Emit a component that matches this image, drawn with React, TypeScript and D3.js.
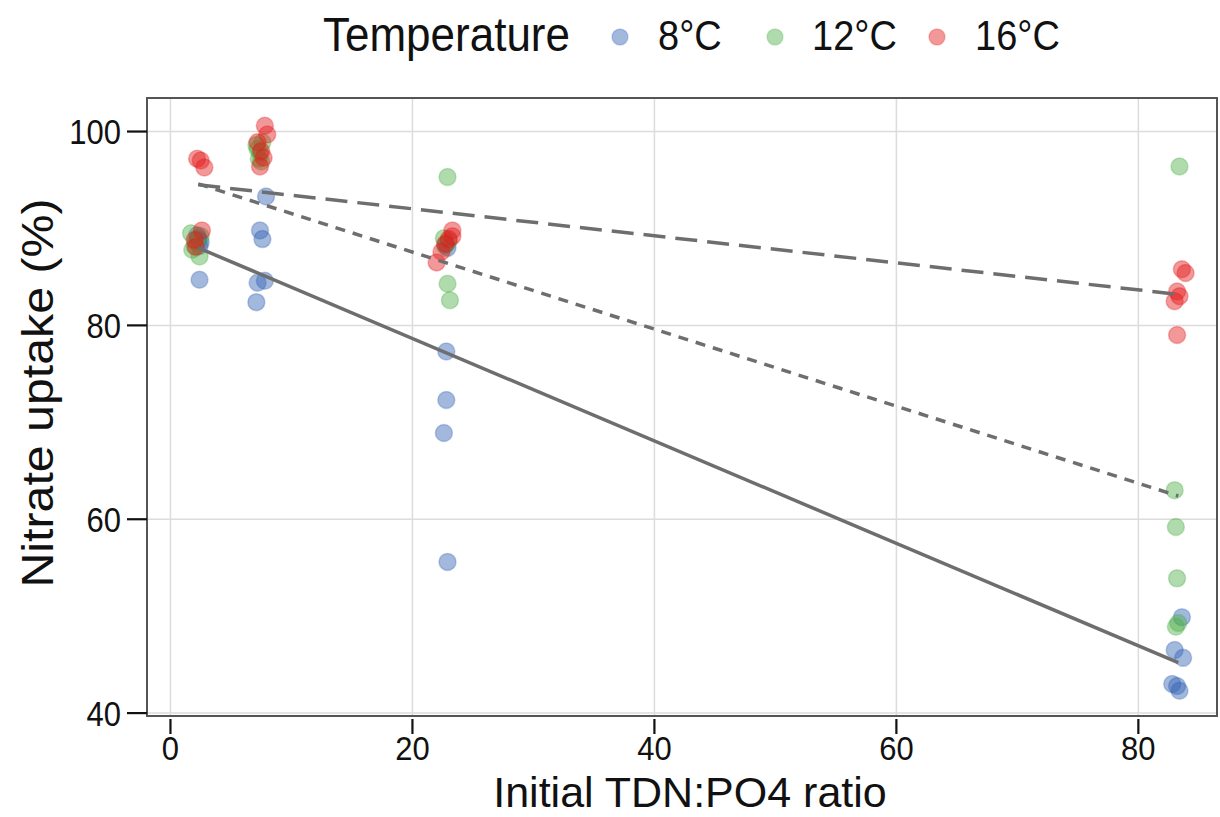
import React from "react";
import * as d3 from "d3";

const temperatures = ["8°C", "12°C", "16°C"];
const colors = ["#3462b4", "#4daf4a", "#e41a1c"];

// [TDN:PO4 ratio, nitrate uptake %]
const points8: [number, number][] = [
  [2.3, 89.0], [2.5, 88.6], [2.2, 89.3], [2.4, 88.2], [2.3, 88.8], [2.4, 84.7],
  [7.9, 93.3], [7.4, 89.8], [7.6, 88.9], [7.2, 84.4], [7.8, 84.6], [7.1, 82.4],
  [22.8, 77.3], [22.8, 72.3], [22.6, 68.9], [22.9, 55.6], [22.8, 88.4], [22.9, 88.0],
  [83.6, 49.9], [83.0, 46.5], [83.7, 45.7], [82.8, 43.0], [83.2, 42.8], [83.4, 42.3],
];
const points12: [number, number][] = [
  [1.7, 89.5], [2.4, 87.1], [1.8, 87.8], [2.1, 88.6], [2.5, 89.2], [2.0, 88.2],
  [7.1, 98.6], [7.4, 97.8], [7.6, 98.9], [7.3, 97.2], [7.5, 96.9], [7.2, 98.2],
  [22.9, 95.3], [22.9, 84.3], [23.1, 82.6], [22.6, 89.0], [22.7, 88.2], [23.0, 88.7],
  [83.4, 96.4], [83.0, 63.0], [83.1, 59.2], [83.2, 53.9], [83.3, 49.3], [83.1, 48.9],
];
const points16: [number, number][] = [
  [2.2, 97.2], [2.5, 97.0], [2.8, 96.3], [2.6, 89.8], [2.0, 88.8], [2.1, 88.1],
  [7.8, 100.6], [8.0, 99.7], [7.2, 98.9], [7.5, 98.0], [7.7, 97.3], [7.4, 96.4],
  [23.3, 89.8], [23.0, 88.9], [22.7, 88.4], [22.4, 87.6], [22.0, 86.5], [23.3, 89.2],
  [83.6, 85.8], [83.9, 85.4], [83.2, 83.5], [83.4, 83.0], [83.0, 82.5], [83.2, 79.0],
];
const series = [points8, points12, points16];

// fitted regression lines: values at the two ends of the x range
const fitX = [2.3, 83.3];
const fit8 = [88.0, 45.2];
const fit12 = [94.6, 62.4];
const fit16 = [94.5, 83.2];
const fits = [fit8, fit12, fit16];
const fitDash = ["none", "10,8", "22,10"];

const xTicks = [0, 20, 40, 60, 80];
const yTicks = [40, 60, 80, 100];

const FONT = "'Liberation Sans', Arial, Helvetica, sans-serif";

export default function App() {
  const left = 147, right = 1217, top = 98, bottom = 716;
  const x = d3.scaleLinear().domain([-1.94, 86.5]).range([left, right]);
  const y = d3.scaleLinear().domain([39.7, 103.46]).range([bottom, top]);
  const line = d3.line<[number, number]>().x((d) => x(d[0])).y((d) => y(d[1]));

  const legendDots = [620, 775, 937];
  const legendText = [658, 812, 975];

  return (
    <svg
      width={1220}
      height={817}
      style={{ position: "absolute", left: 0, top: 0, background: "#fff" }}
      fontFamily={FONT}
    >
      <rect x={0} y={0} width={1220} height={817} fill="#fff" />
      {/* legend */}
      <text transform="translate(323,51) scale(1,1.1)" fontSize={44} fill="#111">Temperature</text>
      {temperatures.map((t, i) => (
        <g key={t}>
          <circle cx={legendDots[i]} cy={37} r={8} fill={colors[i]} fillOpacity={0.45} stroke={colors[i]} strokeOpacity={0.25} strokeWidth={1.5} />
          <text transform={`translate(${legendText[i]},50) scale(1,1.1)`} fontSize={38} fill="#111">{t}</text>
        </g>
      ))}

      {/* grid */}
      {xTicks.map((t) => (
        <line key={"gx" + t} x1={x(t)} x2={x(t)} y1={top} y2={bottom} stroke="#dcdcdc" strokeWidth={1.5} />
      ))}
      {yTicks.map((t) => (
        <line key={"gy" + t} x1={left} x2={right} y1={y(t)} y2={y(t)} stroke="#dcdcdc" strokeWidth={1.5} />
      ))}

      {/* points */}
      {series.map((pts, si) =>
        pts.map((p, i) => (
          <circle
            key={si + "-" + i}
            cx={x(p[0])}
            cy={y(p[1])}
            r={8.5}
            fill={colors[si]}
            fillOpacity={0.45}
            stroke={colors[si]}
            strokeOpacity={0.3}
            strokeWidth={1.5}
          />
        ))
      )}

      {/* fits */}
      {fits.map((f, i) => (
        <path
          key={"fit" + i}
          d={line([[fitX[0], f[0]], [fitX[1], f[1]]]) || ""}
          stroke="#6e6e6e"
          strokeWidth={3.5}
          fill="none"
          strokeDasharray={fitDash[i]}
        />
      ))}

      {/* panel border */}
      <rect x={left} y={top} width={right - left} height={bottom - top} fill="none" stroke="#555" strokeWidth={2} />

      {/* y axis */}
      {yTicks.map((t) => (
        <g key={"yt" + t}>
          <line x1={127} x2={left} y1={y(t)} y2={y(t)} stroke="#111" strokeWidth={2.2} />
          <text
            transform={`translate(121,${y(t)}) scale(1,1.15)`}
            dy="0.36em"
            textAnchor="end"
            fontSize={31}
            fill="#111"
          >
            {t}
          </text>
        </g>
      ))}
      {/* x axis */}
      {xTicks.map((t) => (
        <g key={"xt" + t}>
          <line x1={x(t)} x2={x(t)} y1={bottom + 3} y2={bottom + 18} stroke="#111" strokeWidth={2.2} />
          <text
            transform={`translate(${x(t)},760) scale(1,1.1)`}
            textAnchor="middle"
            fontSize={31}
            fill="#111"
          >
            {t}
          </text>
        </g>
      ))}

      <text x={690} y={807} textAnchor="middle" fontSize={43} fill="#111">
        Initial TDN:PO4 ratio
      </text>
      <text
        transform="translate(53,393) rotate(-90) scale(1.15,1.05)"
        textAnchor="middle"
        fontSize={42}
        fill="#111"
      >
        Nitrate uptake (%)
      </text>
    </svg>
  );
}
